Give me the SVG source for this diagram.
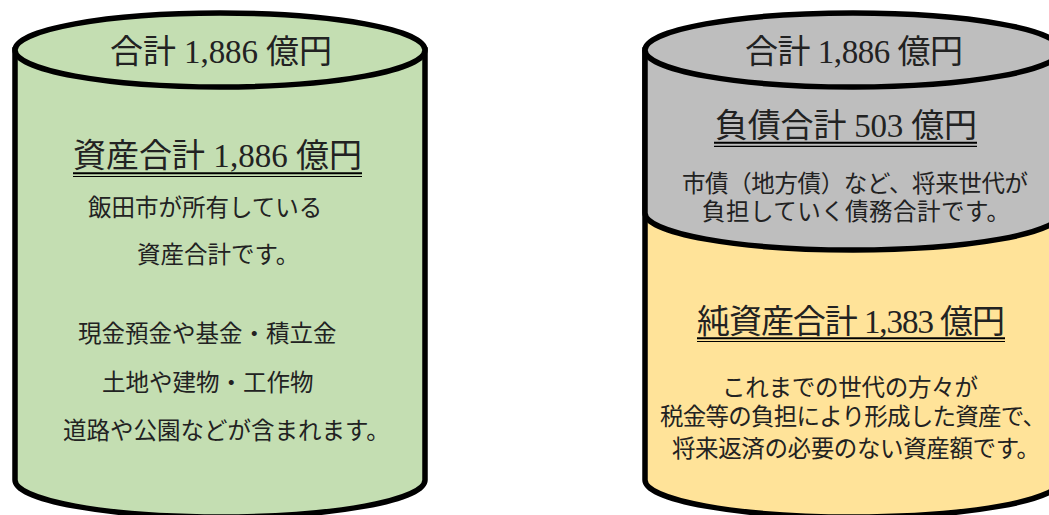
<svg xmlns="http://www.w3.org/2000/svg" width="1049" height="515" viewBox="0 0 1049 515">
<style>
.t{font-family:"Liberation Serif","Noto Sans CJK JP",serif;fill:#222;}
.h{font-size:33px;}
.b{font-size:23.5px;}
.o{stroke:#000;stroke-width:5.5;}
.u1{stroke:#000;stroke-width:2;}
.u2{stroke:#000;stroke-width:1.2;}
</style>
<rect width="1049" height="515" fill="#fff"/>
<g id="assets">
<path class="o" d="M15,50 L15,480 A205,37 0 0 0 425,480 L425,50 Z" fill="#C4DEB2"/>
<ellipse class="o" cx="220" cy="50" rx="205" ry="37" fill="#C4DEB2"/>
<text class="t h" x="221" y="63" text-anchor="middle" textLength="222">合計 1,886 億円</text>
<text class="t h" x="73" y="167" textLength="289">資産合計 1,886 億円</text>
<line class="u1" x1="73" y1="173.3" x2="362" y2="173.3"/>
<line class="u2" x1="73" y1="176.5" x2="362" y2="176.5"/>
<text class="t b" x="88" y="216">飯田市が所有している</text>
<text class="t b" x="137" y="263">資産合計です。</text>
<text class="t b" x="78" y="342">現金預金や基金・積立金</text>
<text class="t b" x="102" y="391">土地や建物・工作物</text>
<text class="t b" x="63" y="439">道路や公園などが含まれます。</text>
</g>
<g id="liabilities-netassets">
<path class="o" d="M645,50 L645,480 A208,37 0 0 0 1061,480 L1061,50 Z" fill="#FFE399"/>
<path d="M645,50 L645,213 A208,37 0 0 0 1061,213 L1061,50 Z" fill="#BEBEBE"/>
<path class="o" d="M645,213 A208,37 0 0 0 1061,213" fill="none"/>
<line class="o" x1="645" y1="50" x2="645" y2="213"/>
<ellipse class="o" cx="853" cy="50" rx="208" ry="37" fill="#BEBEBE"/>
<text class="t h" x="854" y="63" text-anchor="middle" textLength="218">合計 1,886 億円</text>
<g id="liabilities">
<text class="t h" x="715" y="137" textLength="262">負債合計 503 億円</text>
<line class="u1" x1="714" y1="142.8" x2="977" y2="142.8"/>
<line class="u2" x1="714" y1="146.3" x2="977" y2="146.3"/>
<text class="t b" x="682" y="192" textLength="346">市債（地方債）など、将来世代が</text>
<text class="t b" x="702" y="220" textLength="308">負担していく債務合計です。</text>
</g>
<g id="netassets">
<text class="t h" x="697" y="333" textLength="308">純資産合計 1,383 億円</text>
<line class="u1" x1="697" y1="338.3" x2="1005" y2="338.3"/>
<line class="u2" x1="697" y1="341.5" x2="1005" y2="341.5"/>
<text class="t b" x="722" y="396" textLength="256">これまでの世代の方々が</text>
<text class="t b" x="660" y="425" textLength="386">税金等の負担により形成した資産で、</text>
<text class="t b" x="672" y="457" textLength="368">将来返済の必要のない資産額です。</text>
</g>
</g>
</svg>
